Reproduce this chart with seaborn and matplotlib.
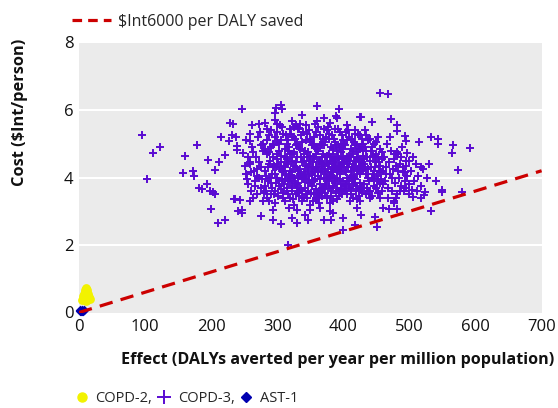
import matplotlib
matplotlib.use("Agg")
import matplotlib.pyplot as plt
from matplotlib.lines import Line2D
import seaborn as sns
import pandas as pd

# ---------------- data ----------------
threshold_per_daly = 6000          # $Int per DALY saved
line_effect = [0, 700]

x_ticks = [0, 100, 200, 300, 400, 500, 600, 700]
y_ticks = [0, 2, 4, 6, 8]

copd2_effect = [8, 10, 12, 9, 11, 13, 7, 10, 12, 14, 9, 11, 8, 13, 10, 12, 11, 9, 10, 11, 6, 15, 10, 12, 9, 5, 16]
copd2_cost = [0.40, 0.42, 0.40, 0.50, 0.52, 0.48, 0.45, 0.60, 0.58, 0.42, 0.62, 0.66, 0.55, 0.55, 0.70, 0.68, 0.45, 0.38, 0.35, 0.74, 0.50, 0.45, 0.50, 0.36, 0.66, 0.38, 0.40]

ast1_effect = [1, 3, 5, 7, 4, 2, 6]
ast1_cost = [0.03, 0.05, 0.07, 0.08, 0.03, 0.06, 0.04]

copd3_points = [
    # outliers / edge points
    (95,5.25),(123,4.91),(112,4.74),(103,3.95),(179,4.95),(160,4.63),(158,4.14),(172,4.19),(174,4.03),(195,4.53),
    (181,3.70),(186,3.67),(194,3.80),(200,3.07),(211,2.65),(221,2.75),(229,5.61),(215,5.19),(231,5.25),(227,5.07),
    (239,4.92),(221,4.66),(212,4.47),(206,4.22),(203,3.58),(198,3.60),(206,3.50),(236,3.35),(240,3.00),
    (247,6.04),(298,6.06),(306,6.14),(307,6.04),(296,5.91),(360,6.13),(393,6.04),(338,5.86),(370,5.76),(389,5.83),
    (390,5.76),(426,5.80),(360,5.68),(323,5.66),(296,5.70),(300,5.60),(282,5.61),(272,5.58),(262,5.55),(233,5.60),
    (238,5.20),(252,5.12),(259,5.07),(239,4.82),(248,4.73),(259,4.47),(328,5.56),(333,5.48),(307,5.50),(380,5.61),
    (405,5.57),(418,5.40),(433,5.40),
    (455,6.49),(468,6.46),(472,5.74),(443,5.65),(425,5.80),(481,5.55),(481,5.37),(493,5.24),(495,5.09),(514,5.05),
    (532,5.20),(543,5.15),(543,5.00),(566,4.97),(564,4.72),(592,4.87),(496,4.72),(481,4.75),(529,4.40),(517,4.32),
    (500,4.48),(495,4.33),(573,4.21),
    (540,3.91),(549,3.63),(550,3.58),(580,3.58),(524,3.56),(522,3.48),(504,3.63),(506,3.43),(495,3.68),(492,3.60),
    (517,3.38),(500,3.50),(479,3.38),(476,3.23),(532,3.00),(481,3.08),(469,3.08),(460,3.10),(448,2.84),(451,2.54),
    (316,2.00),(400,2.44),(418,2.59),(400,2.79),(427,2.90),(385,2.94),(381,2.74),(370,2.74),(347,2.74),(342,2.89),
    (330,2.64),(323,2.79),(306,2.62),(294,2.74),(275,2.87),(246,2.94),(246,3.04),(235,3.35),(244,3.33),(258,3.30),
    (278,3.30),(294,3.05),(330,3.05),(350,3.05),(364,3.10),(380,3.00),(420,3.10),(425,3.30),
    # dense core (estimated)
    (252,4.1),(255,3.8),(258,4.4),(260,3.6),(262,4.9),(265,4.2),(266,3.9),(268,4.6),(270,3.5),(271,5.2),
    (273,4.0),(275,4.3),(276,3.7),(278,4.8),(279,5.0),(256,4.6),(263,3.4),(269,4.05),(274,5.35),(277,3.95),
    (251,4.35),(259,5.3),(264,4.75),(267,3.75),(272,4.45),(280,3.55),(261,4.15),(254,3.95),(276,4.95),(270,4.25),
    (282,4.2),(283,3.6),(284,4.7),(285,5.1),(286,3.9),(287,4.4),(288,3.3),(289,4.0),(290,4.9),(291,5.4),
    (292,3.7),(293,4.3),(294,4.6),(295,3.5),(296,4.1),(297,5.2),(298,3.85),(299,4.55),(300,4.0),(301,3.45),
    (302,4.8),(303,5.0),(304,4.25),(305,3.65),(306,4.45),(307,3.95),(308,5.3),(309,4.15),(310,3.8),(281,4.85),
    (283,4.05),(285,3.4),(287,5.25),(289,4.5),(291,3.85),(293,4.95),(295,4.35),(297,3.6),(299,5.05),(301,4.4),
    (303,3.75),(305,4.65),(307,4.2),(309,3.55),(284,5.45),(288,4.75),(292,4.1),(296,3.25),(300,4.7),(304,5.55),
    (308,3.4),(286,4.3),(290,3.5),(294,5.0),(298,4.3),(302,3.9),(306,5.1),(310,4.35),(282,3.75),(300,5.35),
    (311,4.6),(312,3.3),(313,4.1),(314,5.0),(315,3.7),(316,4.4),(317,3.5),(318,4.9),(319,4.2),(320,3.9),
    (321,5.3),(322,4.5),(323,3.6),(324,4.0),(325,4.75),(326,3.2),(327,5.15),(328,4.3),(329,3.8),(330,4.6),
    (331,4.05),(332,5.45),(333,3.45),(334,4.25),(335,4.85),(336,3.65),(337,4.45),(338,5.05),(339,3.95),(340,4.15),
    (311,3.95),(313,5.25),(315,4.55),(317,4.8),(319,3.4),(321,4.0),(323,4.7),(325,5.5),(327,3.85),(329,4.45),
    (331,3.55),(333,4.9),(335,4.1),(337,3.3),(339,5.35),(312,4.3),(314,3.6),(316,5.1),(318,4.05),(320,4.7),
    (322,3.75),(324,5.2),(326,4.35),(328,3.5),(330,5.0),(332,4.2),(334,3.7),(336,4.6),(338,4.0),(340,3.4),
    (312,4.85),(316,3.9),(320,5.45),(324,3.35),(328,4.95),(332,3.85),(336,5.25),(340,4.7),(318,3.1),(326,4.0),
    (334,5.6),(338,3.6),(314,4.45),(322,4.15),(330,3.7),
    (341,4.5),(342,3.7),(343,5.1),(344,4.0),(345,3.4),(346,4.75),(347,4.2),(348,5.4),(349,3.85),(350,4.4),
    (351,3.55),(352,4.95),(353,4.1),(354,3.3),(355,4.6),(356,5.2),(357,3.95),(358,4.3),(359,3.65),(360,4.85),
    (361,4.05),(362,5.5),(363,3.5),(364,4.5),(365,3.8),(366,5.0),(367,4.25),(368,3.45),(369,4.7),(370,4.0),
    (341,3.95),(343,4.35),(345,5.3),(347,3.6),(349,4.65),(351,5.05),(353,3.75),(355,4.15),(357,4.9),(359,5.35),
    (361,3.4),(363,4.45),(365,4.95),(367,3.7),(369,5.15),(342,4.8),(344,5.55),(346,3.85),(348,4.5),(350,3.2),
    (352,4.25),(354,5.0),(356,3.9),(358,4.7),(360,3.55),(362,4.2),(364,5.25),(366,3.6),(368,4.4),(370,5.45),
    (342,4.1),(346,4.3),(350,5.15),(354,4.45),(358,3.35),(362,4.8),(366,4.15),(370,3.65),(344,3.5),(352,3.9),
    (356,4.55),(360,4.3),(364,3.95),(368,4.95),(348,4.05),(357,5.6),(363,3.25),(367,4.6),(345,4.6),(355,3.5),
    (371,4.35),(372,3.75),(373,5.05),(374,4.1),(375,3.4),(376,4.65),(377,4.25),(378,5.3),(379,3.9),(380,4.5),
    (381,3.6),(382,4.9),(383,4.05),(384,3.3),(385,4.7),(386,5.15),(387,3.85),(388,4.4),(389,3.55),(390,4.8),
    (391,4.0),(392,5.45),(393,3.45),(394,4.55),(395,3.95),(396,5.0),(397,4.2),(398,3.5),(399,4.6),(400,4.3),
    (371,4.95),(373,3.55),(375,4.45),(377,5.5),(379,4.7),(381,4.15),(383,5.25),(385,3.75),(387,4.55),(389,4.95),
    (391,3.35),(393,4.35),(395,5.35),(397,3.65),(399,4.85),(372,4.6),(374,5.2),(376,3.95),(378,3.7),(380,4.05),
    (382,3.45),(384,4.45),(386,4.0),(388,5.05),(390,3.7),(392,4.25),(394,4.9),(396,3.8),(398,4.4),(400,5.1),
    (372,4.2),(376,5.4),(380,3.25),(384,4.85),(388,3.9),(392,4.6),(396,4.35),(400,3.65),(374,3.8),(378,4.4),
    (382,4.6),(386,4.3),(390,4.2),(394,3.6),(398,5.25),(375,4.0),(383,4.3),(387,5.45),(391,4.55),(395,4.1),
    (399,3.9),(379,5.15),(389,4.25),(397,4.75),(385,4.15),
    (401,4.45),(402,3.8),(403,4.95),(404,4.15),(405,3.5),(406,4.6),(407,4.3),(408,5.2),(409,3.9),(410,4.5),
    (411,3.65),(412,4.85),(413,4.05),(414,3.4),(415,4.7),(416,5.05),(417,3.95),(418,4.35),(419,3.6),(420,4.75),
    (421,4.1),(422,5.3),(423,3.45),(424,4.5),(425,3.85),(426,4.9),(427,4.2),(428,3.55),(429,4.65),(430,4.25),
    (401,5.0),(403,3.6),(405,4.4),(407,5.4),(409,4.65),(411,4.2),(413,5.15),(415,3.8),(417,4.5),(419,4.95),
    (421,3.35),(423,4.3),(425,5.25),(427,3.7),(429,4.8),(402,4.55),(404,5.35),(406,3.9),(408,3.7),(410,4.0),
    (412,3.5),(414,4.4),(416,4.0),(418,5.0),(420,3.75),(422,4.25),(424,4.85),(426,3.65),(428,4.45),(430,5.0),
    (402,4.2),(406,5.1),(410,3.3),(414,4.8),(418,3.85),(422,4.6),(426,4.35),(430,3.7),(404,3.75),(408,4.4),
    (412,4.6),(416,4.25),(420,4.2),(424,3.6),(428,5.15),(405,4.0),(413,4.3),(417,5.3),(421,4.55),(425,4.1),
    (431,4.4),(432,3.8),(433,4.9),(434,4.1),(435,3.5),(436,4.6),(437,4.25),(438,5.1),(439,3.9),(440,4.5),
    (441,3.6),(442,4.8),(443,4.0),(444,3.45),(445,4.65),(446,5.0),(447,3.95),(448,4.3),(449,3.7),(450,4.7),
    (451,4.05),(452,5.2),(453,3.55),(454,4.45),(455,3.85),(456,4.85),(457,4.15),(458,3.6),(459,4.55),(460,4.2),
    (432,4.55),(434,5.25),(436,3.7),(438,4.0),(440,3.4),(442,4.3),(444,4.9),(446,3.75),(448,4.6),(450,5.05),
    (452,3.9),(454,4.2),(456,3.4),(458,4.75),(460,3.8),(433,4.3),(437,3.6),(441,5.15),(445,4.1),(449,4.45),
    (453,4.6),(457,3.95),(435,4.8),(447,4.2),(455,4.35),
    (462,4.6),(463,3.9),(465,4.3),(466,5.0),(468,3.7),(469,4.45),(471,4.1),(472,4.8),(474,3.6),(475,4.25),
    (477,4.55),(478,3.85),(480,4.35),(481,3.5),(483,4.7),(484,4.0),(486,4.4),(488,3.75),(489,4.9),(491,4.15),
    (493,3.9),(495,4.5),(497,4.05),(499,3.8),(464,4.1),(467,3.4),(470,5.2),(473,4.0),(476,3.3),(479,4.7),
    (482,4.2),(485,3.6),(487,4.6),(490,4.3),(494,4.15),
    (503,4.2),(507,3.9),(510,4.4),(513,4.05),(518,3.75),(521,4.25),(526,4.0),(505,4.6),(512,3.6),
]
copd3_effect = [p[0] for p in copd3_points]
copd3_cost = [p[1] for p in copd3_points]

# ---------------- styling ----------------
PURPLE = "#5A0AD2"
YELLOW = "#F2F200"
BLUE = "#0000B0"
RED = "#CC0000"
BG = "#EBEBEB"
TXT = "#111111"

sns.set_style("white")
plt.rcParams["font.family"] = ["Open Sans", "DejaVu Sans"]

W, H = 558, 408
fig = plt.figure(figsize=(W / 100, H / 100), dpi=100)
ax = fig.add_axes([79 / W, 1 - 312.5 / H, 462.6 / W, 270 / H])
ax.set_facecolor(BG)
for s in ax.spines.values():
    s.set_visible(False)

ax.set_xlim(0, 700)
ax.set_ylim(0, 8)
ax.set_xticks(x_ticks)
ax.set_yticks(y_ticks)
ax.grid(False)
for yv in y_ticks[1:-1]:
    ax.axhline(yv, color="white", lw=1.5, zorder=0)

df3 = pd.DataFrame({"effect": copd3_effect, "cost": copd3_cost})
sns.scatterplot(data=df3, x="effect", y="cost", marker="+", color=PURPLE,
                s=36, linewidth=1.4, ax=ax, zorder=3, legend=False)

df2 = pd.DataFrame({"effect": copd2_effect, "cost": copd2_cost})
sns.scatterplot(data=df2, x="effect", y="cost", marker="o", color=YELLOW,
                s=40, linewidth=0, ax=ax, zorder=3, legend=False, clip_on=False)

dfa = pd.DataFrame({"effect": ast1_effect, "cost": ast1_cost})
sns.scatterplot(data=dfa, x="effect", y="cost", marker="D", color=BLUE,
                s=24, linewidth=0, ax=ax, zorder=3, legend=False, clip_on=False)

dfl = pd.DataFrame({"effect": line_effect,
                    "cost": [e * threshold_per_daly / 1e6 for e in line_effect]})
sns.lineplot(data=dfl, x="effect", y="cost", color=RED, lw=2.3, ax=ax,
             zorder=4, dashes=False, legend=False)
ax.lines[-1].set_dashes((4.2, 2.6))

ax.tick_params(axis="x", direction="in", length=3, color="white", width=1.2,
               pad=5, labelsize=12, labelcolor=TXT)
ax.tick_params(axis="y", length=0, pad=4, labelsize=12, labelcolor=TXT)

ax.set_xlabel("Effect (DALYs averted per year per million population)",
              fontsize=11.6, fontweight="bold", color=TXT)
ax.xaxis.set_label_coords(0.558, -0.176)
ax.xaxis.label.set_va("center")
ax.set_ylabel("Cost (\\$Int/person)", fontsize=11.8, fontweight="bold", color=TXT)
ax.yaxis.set_label_coords(-0.127, 0.74)
ax.yaxis.label.set_va("center")

# top legend
h_line = Line2D([], [], color=RED, lw=2.3, dashes=(3.0, 1.9))
fig.legend([h_line], ["\\$Int6000 per DALY saved"], loc="center left",
           bbox_to_anchor=(72 / W, 1 - 22 / H), frameon=False, fontsize=11.5,
           handlelength=2.45, handletextpad=0.45, borderaxespad=0, borderpad=0)

# bottom legend
hy = Line2D([], [], ls="none", marker="o", color=YELLOW, markersize=6.5)
hp = Line2D([], [], ls="none", marker="+", color=PURPLE, markersize=10, markeredgewidth=1.4)
hb = Line2D([], [], ls="none", marker="D", color=BLUE, markersize=5.5)
fig.legend([hy, hp, hb], ["COPD-2,", "COPD-3,", "AST-1"], loc="center left",
           bbox_to_anchor=(75 / W, 1 - 399 / H), frameon=False, fontsize=10.5,
           ncol=3, handlelength=0.9, handletextpad=0.5, columnspacing=0.35,
           borderaxespad=0, borderpad=0)

fig.savefig("out.png", dpi=100)
